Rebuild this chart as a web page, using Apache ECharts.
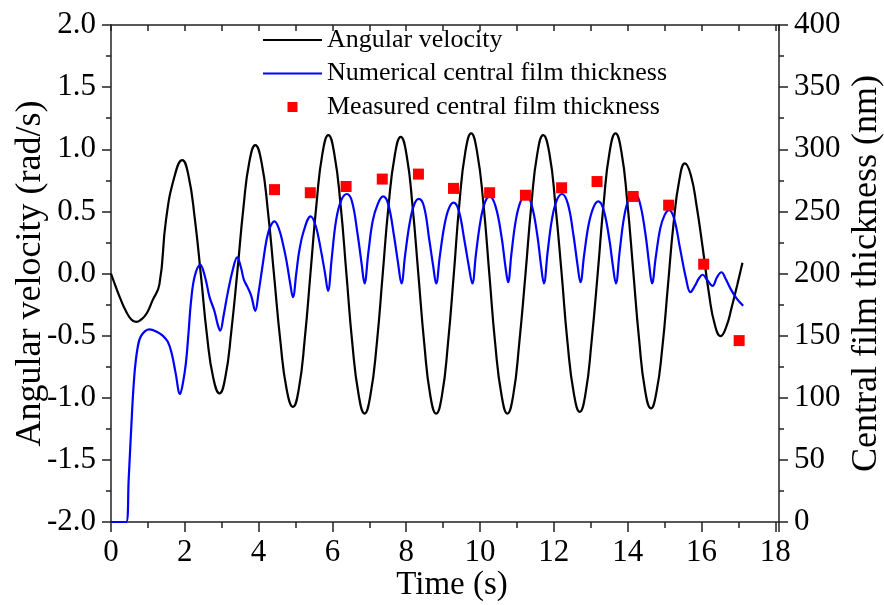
<!DOCTYPE html>
<html><head><meta charset="utf-8">
<script src="https://cdn.jsdelivr.net/npm/echarts@6/dist/echarts.min.js"></script>
<style>html,body{margin:0;padding:0;background:#fff}#c{width:884px;height:605px}</style>
</head><body><div id="c"></div>
<script>
// Angular velocity (rad/s) vs time (s)
const angT = [0, 0.12, 0.25, 0.4, 0.55, 0.68, 0.82, 0.97, 1.12, 1.31, 1.49, 1.72, 1.93,
  2.10, 2.27, 2.44, 2.60, 2.77, 2.94,
  3.10, 3.26, 3.43, 3.59, 3.75, 3.91,
  4.08, 4.25, 4.42, 4.59, 4.76, 4.93,
  5.09, 5.25, 5.41, 5.57, 5.73, 5.89,
  6.05, 6.22, 6.38, 6.54, 6.71, 6.87,
  7.03, 7.20, 7.36, 7.52, 7.69, 7.85,
  8.01, 8.17, 8.33, 8.49, 8.65, 8.81,
  8.97, 9.13, 9.29, 9.44, 9.60, 9.76,
  9.92, 10.09, 10.25, 10.41, 10.58, 10.74,
  10.90, 11.06, 11.23, 11.39, 11.55, 11.71,
  11.88, 12.04, 12.21, 12.37, 12.54, 12.70,
  12.86, 13.02, 13.19, 13.35, 13.51, 13.67,
  13.83, 13.99, 14.15, 14.31, 14.47, 14.63,
  14.78, 14.94, 15.09, 15.24, 15.40, 15.55,
  15.71, 15.87, 16.04, 16.20, 16.36, 16.52,
  16.67, 16.82, 16.97, 17.11];
const angV = [0, -0.1, -0.2, -0.3, -0.37, -0.39, -0.37, -0.32, -0.22, -0.09, 0.43, 0.78, 0.913,
  0.787, 0.443, -0.026, -0.496, -0.839, -0.965,
  -0.831, -0.465, 0.035, 0.535, 0.901, 1.034,
  0.893, 0.507, -0.02, -0.547, -0.933, -1.073,
  -0.927, -0.527, 0.02, 0.567, 0.967, 1.114,
  0.964, 0.554, -0.006, -0.566, -0.976, -1.127,
  -0.978, -0.570, -0.013, 0.544, 0.952, 1.10,
  0.952, 0.544, -0.013, -0.570, -0.978, -1.127,
  -0.977, -0.564, 0.0, 0.564, 0.977, 1.128,
  0.977, 0.564, 0.0, -0.564, -0.976, -1.127,
  -0.977, -0.567, -0.007, 0.553, 0.963, 1.114,
  0.964, 0.557, 0.0, -0.557, -0.964, -1.113,
  -0.962, -0.552, 0.008, 0.568, 0.978, 1.128,
  0.980, 0.575, 0.021, -0.533, -0.938, -1.086,
  -0.954, -0.593, -0.1, 0.393, 0.754, 0.886,
  0.793, 0.539, 0.191, -0.157, -0.411, -0.504,
  -0.43, -0.27, -0.09, 0.086];

// Numerical central film thickness (nm) vs time (s)
const numT = [0, 0.41, 0.48, 0.54, 0.63, 0.72, 0.82, 1.04, 1.25, 1.4, 1.54, 1.65, 1.75, 1.87, 1.95, 2.03, 2.1, 2.17, 2.27, 2.42,
  2.55, 2.67, 2.8, 2.9, 2.96, 3.05, 3.16, 3.3, 3.42, 3.52, 3.6, 3.7, 3.8, 3.91,
  4.0, 4.1, 4.22, 4.32, 4.43, 4.55, 4.65, 4.75, 4.85, 4.93,
  5.02, 5.1, 5.22, 5.41, 5.55, 5.68, 5.8, 5.88,
  5.98, 6.1, 6.24, 6.39, 6.53, 6.68, 6.79, 6.87,
  6.97, 7.09, 7.23, 7.37, 7.51, 7.67, 7.78, 7.87,
  7.97, 8.09, 8.21, 8.34, 8.48, 8.62, 8.73, 8.81,
  8.91, 9.03, 9.15, 9.28, 9.42, 9.58, 9.70, 9.79,
  9.89, 10.01, 10.13, 10.26, 10.42, 10.58, 10.69, 10.76,
  10.85, 10.97, 11.1, 11.24, 11.39, 11.55, 11.65, 11.73,
  11.83, 11.95, 12.08, 12.22, 12.38, 12.53, 12.64, 12.72,
  12.82, 12.94, 13.07, 13.20, 13.34, 13.5, 13.6, 13.68,
  13.78, 13.9, 14.03, 14.17, 14.32, 14.48, 14.58, 14.66,
  14.76, 14.88, 15.0, 15.12, 15.26, 15.42, 15.58, 15.70,
  15.82, 15.93, 16.03, 16.15, 16.30, 16.42, 16.54, 16.65, 16.8, 16.95, 17.13];
const numH = [0, 0, 35, 71, 117, 140, 150, 155, 153, 150, 145, 135, 120, 103, 112, 128, 152, 178, 198, 207,
  197, 181, 170, 158, 154, 166, 184, 203, 213, 205, 195, 189, 182, 170,
  185, 205, 228, 238, 242, 236, 225, 211, 193, 181,
  200, 218, 234, 246, 238, 220, 200, 186,
  212, 243, 259, 264, 258, 232, 208, 192,
  216, 242, 256, 262, 256, 230, 208, 192,
  215, 240, 255, 260, 254, 228, 206, 192,
  214, 238, 252, 257, 251, 226, 205, 192,
  216, 242, 257, 262, 254, 230, 205, 193,
  216, 243, 258, 263, 256, 231, 207, 192,
  217, 244, 259, 264, 256, 231, 207, 193,
  215, 239, 253, 258, 252, 228, 206, 192,
  217, 245, 260, 265, 258, 232, 208, 192,
  213, 236, 247, 251, 244, 220, 196, 185,
  190, 196, 199, 195, 190, 197, 201, 196, 187, 180, 174];

// Measured central film thickness (nm) vs time (s)
const measT = [4.43, 5.40, 6.37, 7.35, 8.33, 9.28, 10.26, 11.23, 12.21, 13.17, 14.15, 15.11, 16.06, 17.02];
const measH = [267.5, 265, 270, 276, 280, 268.5, 265, 263, 269, 274, 262, 255, 207.5, 146];

const seriesNames = ['Angular velocity', 'Numerical central film thickness', 'Measured central film thickness'];

const FONT = 'Liberation Serif';
const AX = '#222';
const pair = (a, b) => a.map((t, i) => [t, b[i]]);

const chart = echarts.init(document.getElementById('c'), null, {renderer: 'canvas'});
const lineCommon = {show: true, onZero: false, lineStyle: {color: AX, width: 1.5}};
const labelStyle = {fontFamily: FONT, fontSize: 31, color: '#000', margin: 15};
const yNameStyle = {fontFamily: FONT, fontSize: 36, color: '#000'};

chart.setOption({
  animation: false,
  backgroundColor: '#fff',
  grid: {left: 111, right: 105, top: 25, bottom: 83, containLabel: false, outerBoundsMode: 'none'},
  legend: {
    orient: 'vertical', left: 262, top: 27, padding: 0, itemWidth: 59, itemHeight: 10, itemGap: 7.5,
    selectedMode: false,
    textStyle: {fontFamily: FONT, fontSize: 26, color: '#000'},
    data: [
      {name: seriesNames[0], itemStyle: {opacity: 0}},
      {name: seriesNames[1], itemStyle: {opacity: 0}},
      {name: seriesNames[2], icon: 'path://M0,0L10,0L10,10L0,10Z'}
    ]
  },
  xAxis: [
    {
      type: 'value', min: 0, max: 18.1, interval: 2, position: 'bottom',
      axisLine: lineCommon,
      axisTick: {show: true, inside: false, length: 10, lineStyle: {color: AX, width: 1.5}},
      minorTick: {show: true, splitNumber: 2, length: 6, lineStyle: {color: AX, width: 1.5}},
      splitLine: {show: false},
      axisLabel: Object.assign({}, labelStyle, {formatter: v => (Math.abs(v % 2) < 1e-6 ? String(v) : '')}),
      name: 'Time (s)', nameLocation: 'middle', nameGap: 47, nameMoveOverlap: false,
      nameTextStyle: {fontFamily: FONT, fontSize: 33, color: '#000', padding: [0, 0, 0, 14]}
    },
    {
      type: 'value', min: 0, max: 18.1, interval: 2, position: 'top',
      axisLine: lineCommon,
      axisTick: {show: true, inside: true, length: 6, lineStyle: {color: AX, width: 1.5}},
      minorTick: {show: true, splitNumber: 2, length: 6, lineStyle: {color: AX, width: 1.5}},
      splitLine: {show: false},
      axisLabel: {show: false}
    }
  ],
  yAxis: [
    {
      type: 'value', min: -2, max: 2, interval: 0.5, position: 'left',
      axisLine: lineCommon,
      axisTick: {show: true, inside: false, length: 9, lineStyle: {color: AX, width: 1.5}},
      minorTick: {show: true, splitNumber: 2, length: 5, lineStyle: {color: AX, width: 1.5}},
      splitLine: {show: false},
      axisLabel: Object.assign({}, labelStyle, {formatter: v => v.toFixed(1)}),
      name: 'Angular velocity (rad/s)', nameLocation: 'middle', nameGap: 62, nameMoveOverlap: false,
      nameTextStyle: yNameStyle
    },
    {
      type: 'value', min: 0, max: 400, interval: 50, position: 'right',
      axisLine: lineCommon,
      axisTick: {show: true, inside: false, length: 9, lineStyle: {color: AX, width: 1.5}},
      minorTick: {show: true, splitNumber: 2, length: 5, lineStyle: {color: AX, width: 1.5}},
      splitLine: {show: false},
      axisLabel: labelStyle,
      name: 'Central film thickness (nm)', nameLocation: 'middle', nameGap: 70, nameMoveOverlap: false,
      nameTextStyle: yNameStyle
    }
  ],
  series: [
    {
      name: seriesNames[0], type: 'line', xAxisIndex: 0, yAxisIndex: 0,
      data: pair(angT, angV), smooth: 0.5, symbol: 'none',
      lineStyle: {color: '#000', width: 2.2}, itemStyle: {color: '#000'}, z: 2
    },
    {
      name: seriesNames[1], type: 'line', xAxisIndex: 0, yAxisIndex: 1,
      data: pair(numT, numH), smooth: 0.4, symbol: 'none',
      lineStyle: {color: '#0000ff', width: 2.2}, itemStyle: {color: '#0000ff'}, z: 3
    },
    {
      name: seriesNames[2], type: 'scatter', xAxisIndex: 0, yAxisIndex: 1,
      data: pair(measT, measH), symbol: 'rect', symbolSize: 11,
      itemStyle: {color: '#ff0000', opacity: 1}, z: 4
    }
  ]
});
</script>
</body></html>
